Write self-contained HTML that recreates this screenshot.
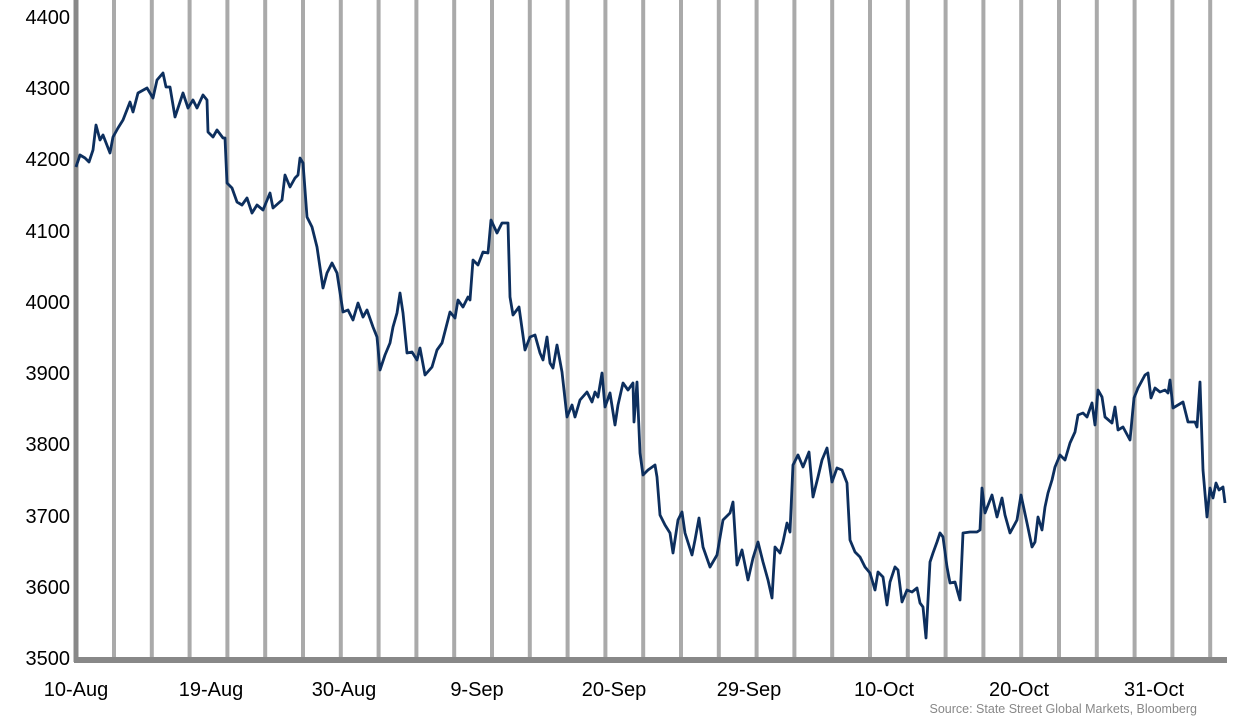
<!DOCTYPE html>
<html><head><meta charset="utf-8"><style>
html,body{margin:0;padding:0;background:#fff;}
svg{display:block;}
text{font-family:"Liberation Sans",Arial,sans-serif;}
</style></head><body>
<svg width="1233" height="724" viewBox="0 0 1233 724">
<path stroke="#aaaaaa" stroke-width="4" fill="none" d="M114,0V658M151.8,0V658M189.6,0V658M227.4,0V658M265.2,0V658M303,0V658M340.8,0V658M378.6,0V658M416.4,0V658M454.2,0V658M492,0V658M529.8,0V658M567.6,0V658M605.4,0V658M643.2,0V658M681,0V658M718.8,0V658M756.6,0V658M794.4,0V658M832.2,0V658M870,0V658M907.8,0V658M945.6,0V658M983.4,0V658M1021.2,0V658M1059,0V658M1096.8,0V658M1134.6,0V658M1172.4,0V658M1210.2,0V658"/>
<line x1="76" y1="0" x2="76" y2="662" stroke="#888" stroke-width="5"/>
<line x1="74" y1="660" x2="1227" y2="660" stroke="#888" stroke-width="6"/>
<g font-size="20" fill="#000" text-anchor="end">
<text x="70" y="24">4400</text>
<text x="70" y="95">4300</text>
<text x="70" y="166">4200</text>
<text x="70" y="238">4100</text>
<text x="70" y="309">4000</text>
<text x="70" y="380">3900</text>
<text x="70" y="451">3800</text>
<text x="70" y="523">3700</text>
<text x="70" y="594">3600</text>
<text x="70" y="665">3500</text>
</g>
<g font-size="20" fill="#000" text-anchor="middle">
<text x="76" y="696">10-Aug</text>
<text x="211" y="696">19-Aug</text>
<text x="344" y="696">30-Aug</text>
<text x="477" y="696">9-Sep</text>
<text x="614" y="696">20-Sep</text>
<text x="749" y="696">29-Sep</text>
<text x="884" y="696">10-Oct</text>
<text x="1019" y="696">20-Oct</text>
<text x="1154" y="696">31-Oct</text>
</g>
<text x="1197" y="713" font-size="12.5" fill="#888" text-anchor="end">Source: State Street Global Markets, Bloomberg</text>
<polyline fill="none" stroke="#0d2f5e" stroke-width="2.8" stroke-linejoin="round" points="
76,167 80,155 85,158 89,162 93,150 96,125 100,140 103,135 110,153 113,137 118,128 123,120 130,102 133,112 138,93 147,88 153,98 157,80 163,73 166,87 170,87 175,117 178,108 183,93 188,108 193,100 197,108 203,95 207,100 208,132 213,137 217,130 223,138 225,138 227,183 232,188 237,202 242,205 247,198 252,213 257,205 263,210 270,193 273,208 282,200 285,175 290,187 295,178 298,175 300,158 303,163 307,217 312,227 317,247 323,288 327,273 332,263 337,273 343,312 348,310 353,320 358,303 363,317 367,310 373,327 377,337 380,370 385,355 390,343 393,327 397,313 400,293 403,313 407,353 412,352 417,360 420,348 425,375 432,367 437,350 442,343 450,312 455,318 458,300 463,307 468,297 470,300 473,260 478,265 483,252 488,253 491,220 497,233 502,223 508,223 510,297 513,315 519,307 525,350 530,337 535,335 540,353 543,360 547,337 550,363 553,368 557,345 562,372 567,417 572,405 575,417 580,400 587,392 592,402 595,392 598,397 602,373 605,407 610,393 615,425 618,405 623,383 628,390 633,383 634,422 637,382 640,453 643,475 648,470 655,465 657,477 660,515 665,525 670,533 673,553 678,520 682,512 685,533 692,555 695,540 699,518 703,547 710,567 717,555 723,520 730,513 733,502 737,565 742,550 748,580 753,558 758,542 763,562 768,580 772,598 775,547 780,553 783,542 787,523 790,532 793,465 798,455 803,467 809,452 813,497 818,477 822,460 827,448 832,482 837,468 842,470 847,483 850,540 855,552 860,557 865,567 870,573 875,590 878,572 883,577 887,605 890,582 895,567 898,570 902,602 907,590 912,592 917,588 920,603 923,607 926,638 928,600 930,562 933,553 937,542 940,533 943,537 947,567 950,583 955,582 958,593 960,600 963,533 970,532 977,532 980,530 982,488 985,513 992,495 997,517 1002,498 1005,515 1010,533 1017,520 1021,495 1027,523 1032,547 1035,542 1038,517 1042,530 1045,507 1048,493 1052,480 1055,467 1060,455 1065,460 1070,443 1075,432 1078,415 1083,413 1087,417 1092,403 1095,425 1098,390 1102,397 1105,417 1112,423 1115,407 1118,430 1123,427 1130,440 1134,398 1138,388 1145,375 1148,373 1151,398 1155,388 1160,392 1165,390 1168,393 1170,380 1173,408 1183,402 1188,422 1195,422 1197,427 1200,382 1203,470 1207,517 1210,488 1213,498 1216,483 1219,490 1223,487 1225,503"/>
</svg>
</body></html>
